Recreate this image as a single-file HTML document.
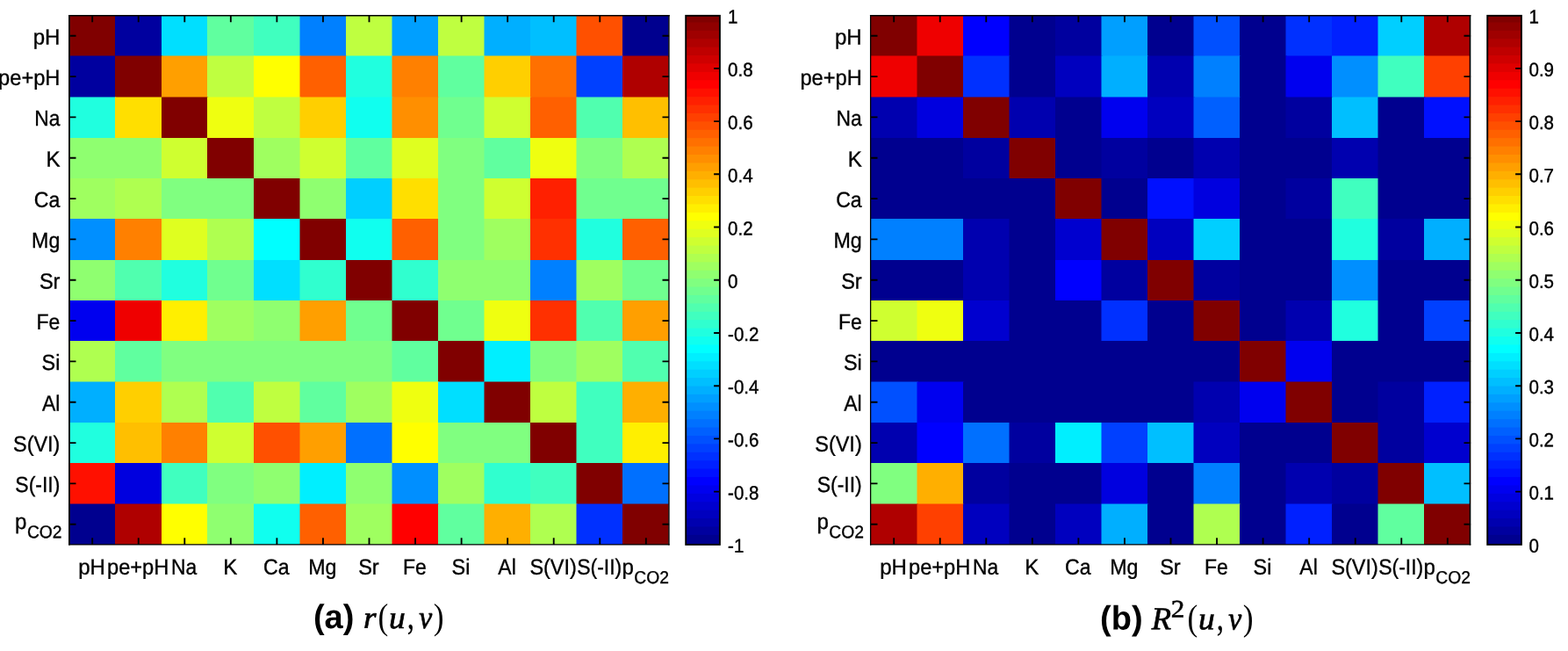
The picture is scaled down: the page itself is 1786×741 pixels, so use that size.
<!DOCTYPE html>
<html lang="en">
<head>
<meta charset="utf-8">
<title>Correlation heat maps: r(u,v) and R2(u,v)</title>
<style>
html,body{margin:0;padding:0;background:#fff;}
body{width:1786px;height:741px;overflow:hidden;}
svg{display:block;}
text{white-space:pre;text-rendering:geometricPrecision;}
</style>
</head>
<body>
<svg width="1786" height="741" viewBox="0 0 1786 741">
<rect x="0" y="0" width="1786" height="741" fill="#fff"/>
<rect x="78.5" y="17.4" width="53.7" height="47.3" fill="#800000"/>
<rect x="131" y="17.4" width="54.2" height="47.3" fill="#00009f"/>
<rect x="184" y="17.4" width="53.2" height="47.3" fill="#00dfff"/>
<rect x="236" y="17.4" width="54.2" height="47.3" fill="#60ff9f"/>
<rect x="289" y="17.4" width="53.7" height="47.3" fill="#40ffbf"/>
<rect x="341.5" y="17.4" width="53.7" height="47.3" fill="#0080ff"/>
<rect x="394" y="17.4" width="53.7" height="47.3" fill="#bfff40"/>
<rect x="446.5" y="17.4" width="53.7" height="47.3" fill="#009fff"/>
<rect x="499" y="17.4" width="53.7" height="47.3" fill="#bfff40"/>
<rect x="551.5" y="17.4" width="53.7" height="47.3" fill="#00afff"/>
<rect x="604" y="17.4" width="53.7" height="47.3" fill="#00bfff"/>
<rect x="656.5" y="17.4" width="53.7" height="47.3" fill="#ff5000"/>
<rect x="709" y="17.4" width="52.6" height="47.3" fill="#00008f"/>
<rect x="78.5" y="63.5" width="53.7" height="48.2" fill="#00009f"/>
<rect x="131" y="63.5" width="54.2" height="48.2" fill="#800000"/>
<rect x="184" y="63.5" width="53.2" height="48.2" fill="#ff9f00"/>
<rect x="236" y="63.5" width="54.2" height="48.2" fill="#bfff40"/>
<rect x="289" y="63.5" width="53.7" height="48.2" fill="#ffff00"/>
<rect x="341.5" y="63.5" width="53.7" height="48.2" fill="#ff6000"/>
<rect x="394" y="63.5" width="53.7" height="48.2" fill="#20ffdf"/>
<rect x="446.5" y="63.5" width="53.7" height="48.2" fill="#ff8000"/>
<rect x="499" y="63.5" width="53.7" height="48.2" fill="#60ff9f"/>
<rect x="551.5" y="63.5" width="53.7" height="48.2" fill="#ffcf00"/>
<rect x="604" y="63.5" width="53.7" height="48.2" fill="#ff7000"/>
<rect x="656.5" y="63.5" width="53.7" height="48.2" fill="#0040ff"/>
<rect x="709" y="63.5" width="52.6" height="48.2" fill="#af0000"/>
<rect x="78.5" y="110.5" width="53.7" height="47.7" fill="#20ffdf"/>
<rect x="131" y="110.5" width="54.2" height="47.7" fill="#ffdf00"/>
<rect x="184" y="110.5" width="53.2" height="47.7" fill="#800000"/>
<rect x="236" y="110.5" width="54.2" height="47.7" fill="#efff10"/>
<rect x="289" y="110.5" width="53.7" height="47.7" fill="#bfff40"/>
<rect x="341.5" y="110.5" width="53.7" height="47.7" fill="#ffcf00"/>
<rect x="394" y="110.5" width="53.7" height="47.7" fill="#10ffef"/>
<rect x="446.5" y="110.5" width="53.7" height="47.7" fill="#ff8f00"/>
<rect x="499" y="110.5" width="53.7" height="47.7" fill="#70ff8f"/>
<rect x="551.5" y="110.5" width="53.7" height="47.7" fill="#cfff30"/>
<rect x="604" y="110.5" width="53.7" height="47.7" fill="#ff6000"/>
<rect x="656.5" y="110.5" width="53.7" height="47.7" fill="#50ffaf"/>
<rect x="709" y="110.5" width="52.6" height="47.7" fill="#ffbf00"/>
<rect x="78.5" y="157" width="106.7" height="47.2" fill="#8fff70"/>
<rect x="184" y="157" width="53.2" height="47.2" fill="#cfff30"/>
<rect x="236" y="157" width="54.2" height="47.2" fill="#800000"/>
<rect x="289" y="157" width="53.7" height="47.2" fill="#9fff60"/>
<rect x="341.5" y="157" width="53.7" height="47.2" fill="#cfff30"/>
<rect x="394" y="157" width="53.7" height="47.2" fill="#60ff9f"/>
<rect x="446.5" y="157" width="53.7" height="47.2" fill="#dfff20"/>
<rect x="499" y="157" width="53.7" height="47.2" fill="#80ff80"/>
<rect x="551.5" y="157" width="53.7" height="47.2" fill="#60ff9f"/>
<rect x="604" y="157" width="53.7" height="47.2" fill="#efff10"/>
<rect x="656.5" y="157" width="53.7" height="47.2" fill="#80ff80"/>
<rect x="709" y="157" width="52.6" height="47.2" fill="#afff50"/>
<rect x="78.5" y="203" width="53.7" height="47.2" fill="#9fff60"/>
<rect x="131" y="203" width="54.2" height="47.2" fill="#afff50"/>
<rect x="184" y="203" width="106.2" height="47.2" fill="#80ff80"/>
<rect x="289" y="203" width="53.7" height="47.2" fill="#800000"/>
<rect x="341.5" y="203" width="53.7" height="47.2" fill="#8fff70"/>
<rect x="394" y="203" width="53.7" height="47.2" fill="#00cfff"/>
<rect x="446.5" y="203" width="53.7" height="47.2" fill="#ffdf00"/>
<rect x="499" y="203" width="53.7" height="47.2" fill="#80ff80"/>
<rect x="551.5" y="203" width="53.7" height="47.2" fill="#cfff30"/>
<rect x="604" y="203" width="53.7" height="47.2" fill="#ff2000"/>
<rect x="656.5" y="203" width="105.1" height="47.2" fill="#70ff8f"/>
<rect x="78.5" y="249" width="53.7" height="48.2" fill="#008fff"/>
<rect x="131" y="249" width="54.2" height="48.2" fill="#ff8000"/>
<rect x="184" y="249" width="53.2" height="48.2" fill="#dfff20"/>
<rect x="236" y="249" width="54.2" height="48.2" fill="#afff50"/>
<rect x="289" y="249" width="53.7" height="48.2" fill="#00ffff"/>
<rect x="341.5" y="249" width="53.7" height="48.2" fill="#800000"/>
<rect x="394" y="249" width="53.7" height="48.2" fill="#10ffef"/>
<rect x="446.5" y="249" width="53.7" height="48.2" fill="#ff6000"/>
<rect x="499" y="249" width="53.7" height="48.2" fill="#80ff80"/>
<rect x="551.5" y="249" width="53.7" height="48.2" fill="#9fff60"/>
<rect x="604" y="249" width="53.7" height="48.2" fill="#ff3000"/>
<rect x="656.5" y="249" width="53.7" height="48.2" fill="#20ffdf"/>
<rect x="709" y="249" width="52.6" height="48.2" fill="#ff6000"/>
<rect x="78.5" y="296" width="53.7" height="47.2" fill="#8fff70"/>
<rect x="131" y="296" width="54.2" height="47.2" fill="#50ffaf"/>
<rect x="184" y="296" width="53.2" height="47.2" fill="#20ffdf"/>
<rect x="236" y="296" width="54.2" height="47.2" fill="#70ff8f"/>
<rect x="289" y="296" width="53.7" height="47.2" fill="#00dfff"/>
<rect x="341.5" y="296" width="53.7" height="47.2" fill="#30ffcf"/>
<rect x="394" y="296" width="53.7" height="47.2" fill="#800000"/>
<rect x="446.5" y="296" width="53.7" height="47.2" fill="#30ffcf"/>
<rect x="499" y="296" width="106.2" height="47.2" fill="#8fff70"/>
<rect x="604" y="296" width="53.7" height="47.2" fill="#0080ff"/>
<rect x="656.5" y="296" width="53.7" height="47.2" fill="#9fff60"/>
<rect x="709" y="296" width="52.6" height="47.2" fill="#70ff8f"/>
<rect x="78.5" y="342" width="53.7" height="47.2" fill="#0000ef"/>
<rect x="131" y="342" width="54.2" height="47.2" fill="#ef0000"/>
<rect x="184" y="342" width="53.2" height="47.2" fill="#ffef00"/>
<rect x="236" y="342" width="54.2" height="47.2" fill="#9fff60"/>
<rect x="289" y="342" width="53.7" height="47.2" fill="#8fff70"/>
<rect x="341.5" y="342" width="53.7" height="47.2" fill="#ff9f00"/>
<rect x="394" y="342" width="53.7" height="47.2" fill="#70ff8f"/>
<rect x="446.5" y="342" width="53.7" height="47.2" fill="#800000"/>
<rect x="499" y="342" width="53.7" height="47.2" fill="#70ff8f"/>
<rect x="551.5" y="342" width="53.7" height="47.2" fill="#efff10"/>
<rect x="604" y="342" width="53.7" height="47.2" fill="#ff3000"/>
<rect x="656.5" y="342" width="53.7" height="47.2" fill="#50ffaf"/>
<rect x="709" y="342" width="52.6" height="47.2" fill="#ff9f00"/>
<rect x="78.5" y="388" width="53.7" height="47.7" fill="#afff50"/>
<rect x="131" y="388" width="54.2" height="47.7" fill="#60ff9f"/>
<rect x="184" y="388" width="263.7" height="47.7" fill="#80ff80"/>
<rect x="446.5" y="388" width="53.7" height="47.7" fill="#60ff9f"/>
<rect x="499" y="388" width="53.7" height="47.7" fill="#800000"/>
<rect x="551.5" y="388" width="53.7" height="47.7" fill="#00efff"/>
<rect x="604" y="388" width="53.7" height="47.7" fill="#80ff80"/>
<rect x="656.5" y="388" width="53.7" height="47.7" fill="#9fff60"/>
<rect x="709" y="388" width="52.6" height="47.7" fill="#50ffaf"/>
<rect x="78.5" y="434.5" width="53.7" height="47.7" fill="#00afff"/>
<rect x="131" y="434.5" width="54.2" height="47.7" fill="#ffcf00"/>
<rect x="184" y="434.5" width="53.2" height="47.7" fill="#afff50"/>
<rect x="236" y="434.5" width="54.2" height="47.7" fill="#50ffaf"/>
<rect x="289" y="434.5" width="53.7" height="47.7" fill="#bfff40"/>
<rect x="341.5" y="434.5" width="53.7" height="47.7" fill="#60ff9f"/>
<rect x="394" y="434.5" width="53.7" height="47.7" fill="#9fff60"/>
<rect x="446.5" y="434.5" width="53.7" height="47.7" fill="#efff10"/>
<rect x="499" y="434.5" width="53.7" height="47.7" fill="#00dfff"/>
<rect x="551.5" y="434.5" width="53.7" height="47.7" fill="#800000"/>
<rect x="604" y="434.5" width="53.7" height="47.7" fill="#bfff40"/>
<rect x="656.5" y="434.5" width="53.7" height="47.7" fill="#40ffbf"/>
<rect x="709" y="434.5" width="52.6" height="47.7" fill="#ffaf00"/>
<rect x="78.5" y="481" width="53.7" height="47.2" fill="#20ffdf"/>
<rect x="131" y="481" width="54.2" height="47.2" fill="#ffbf00"/>
<rect x="184" y="481" width="53.2" height="47.2" fill="#ff8000"/>
<rect x="236" y="481" width="54.2" height="47.2" fill="#cfff30"/>
<rect x="289" y="481" width="53.7" height="47.2" fill="#ff5000"/>
<rect x="341.5" y="481" width="53.7" height="47.2" fill="#ff9f00"/>
<rect x="394" y="481" width="53.7" height="47.2" fill="#0070ff"/>
<rect x="446.5" y="481" width="53.7" height="47.2" fill="#ffff00"/>
<rect x="499" y="481" width="106.2" height="47.2" fill="#80ff80"/>
<rect x="604" y="481" width="53.7" height="47.2" fill="#800000"/>
<rect x="656.5" y="481" width="53.7" height="47.2" fill="#40ffbf"/>
<rect x="709" y="481" width="52.6" height="47.2" fill="#ffef00"/>
<rect x="78.5" y="527" width="53.7" height="47.7" fill="#ff1000"/>
<rect x="131" y="527" width="54.2" height="47.7" fill="#0000df"/>
<rect x="184" y="527" width="53.2" height="47.7" fill="#40ffbf"/>
<rect x="236" y="527" width="54.2" height="47.7" fill="#80ff80"/>
<rect x="289" y="527" width="53.7" height="47.7" fill="#8fff70"/>
<rect x="341.5" y="527" width="53.7" height="47.7" fill="#00efff"/>
<rect x="394" y="527" width="53.7" height="47.7" fill="#8fff70"/>
<rect x="446.5" y="527" width="53.7" height="47.7" fill="#008fff"/>
<rect x="499" y="527" width="53.7" height="47.7" fill="#9fff60"/>
<rect x="551.5" y="527" width="53.7" height="47.7" fill="#30ffcf"/>
<rect x="604" y="527" width="53.7" height="47.7" fill="#40ffbf"/>
<rect x="656.5" y="527" width="53.7" height="47.7" fill="#800000"/>
<rect x="709" y="527" width="52.6" height="47.7" fill="#0070ff"/>
<rect x="78.5" y="573.5" width="53.7" height="46.5" fill="#00008f"/>
<rect x="131" y="573.5" width="54.2" height="46.5" fill="#af0000"/>
<rect x="184" y="573.5" width="53.2" height="46.5" fill="#ffff00"/>
<rect x="236" y="573.5" width="54.2" height="46.5" fill="#8fff70"/>
<rect x="289" y="573.5" width="53.7" height="46.5" fill="#10ffef"/>
<rect x="341.5" y="573.5" width="53.7" height="46.5" fill="#ff6000"/>
<rect x="394" y="573.5" width="53.7" height="46.5" fill="#9fff60"/>
<rect x="446.5" y="573.5" width="53.7" height="46.5" fill="#ff0000"/>
<rect x="499" y="573.5" width="53.7" height="46.5" fill="#60ff9f"/>
<rect x="551.5" y="573.5" width="53.7" height="46.5" fill="#ffaf00"/>
<rect x="604" y="573.5" width="53.7" height="46.5" fill="#afff50"/>
<rect x="656.5" y="573.5" width="53.7" height="46.5" fill="#0030ff"/>
<rect x="709" y="573.5" width="52.6" height="46.5" fill="#800000"/>
<path d="M105.18 17.6v7.6M105.18 619.9v-7.6M78.9 40.77h7.6M762.1 40.77h-7.6M157.73 17.6v7.6M157.73 619.9v-7.6M78.9 87.1h7.6M762.1 87.1h-7.6M210.28 17.6v7.6M210.28 619.9v-7.6M78.9 133.43h7.6M762.1 133.43h-7.6M262.84 17.6v7.6M262.84 619.9v-7.6M78.9 179.76h7.6M762.1 179.76h-7.6M315.39 17.6v7.6M315.39 619.9v-7.6M78.9 226.09h7.6M762.1 226.09h-7.6M367.95 17.6v7.6M367.95 619.9v-7.6M78.9 272.42h7.6M762.1 272.42h-7.6M420.5 17.6v7.6M420.5 619.9v-7.6M78.9 318.75h7.6M762.1 318.75h-7.6M473.05 17.6v7.6M473.05 619.9v-7.6M78.9 365.08h7.6M762.1 365.08h-7.6M525.61 17.6v7.6M525.61 619.9v-7.6M78.9 411.41h7.6M762.1 411.41h-7.6M578.16 17.6v7.6M578.16 619.9v-7.6M78.9 457.74h7.6M762.1 457.74h-7.6M630.72 17.6v7.6M630.72 619.9v-7.6M78.9 504.07h7.6M762.1 504.07h-7.6M683.27 17.6v7.6M683.27 619.9v-7.6M78.9 550.4h7.6M762.1 550.4h-7.6M735.82 17.6v7.6M735.82 619.9v-7.6M78.9 596.73h7.6M762.1 596.73h-7.6" stroke="#000" stroke-width="1.85" fill="none"/>
<path d="M78.95 16.9V620.6" stroke="#000" stroke-width="1.75" fill="none"/>
<path d="M78.08 17.7H762.63" stroke="#000" stroke-width="1.4" fill="none"/>
<path d="M761.93 16.9V620.6" stroke="#000" stroke-width="1.4" fill="none"/>
<path d="M78.08 619.9H762.63" stroke="#000" stroke-width="1.4" fill="none"/>
<g font-family="'Liberation Sans', Arial, Helvetica, sans-serif" font-size="24" fill="#000" stroke="#000" stroke-width="0.35">
<text transform="translate(68.4 50.47) scale(1 1.035) rotate(0.03)" text-anchor="end">pH</text>
<text transform="translate(68.4 96.8) scale(0.985 1.035) rotate(0.03)" text-anchor="end">pe+pH</text>
<text transform="translate(68.4 143.13) scale(0.95 1.035) rotate(0.03)" text-anchor="end">Na</text>
<text transform="translate(68.4 189.46) scale(1 1.035) rotate(0.03)" text-anchor="end">K</text>
<text transform="translate(68.4 235.79) scale(0.963 1.035) rotate(0.03)" text-anchor="end">Ca</text>
<text transform="translate(68.4 282.12) scale(0.968 1.035) rotate(0.03)" text-anchor="end">Mg</text>
<text transform="translate(68.4 328.45) scale(0.98 1.035) rotate(0.03)" text-anchor="end">Sr</text>
<text transform="translate(68.4 374.78) scale(0.957 1.035) rotate(0.03)" text-anchor="end">Fe</text>
<text transform="translate(68.4 421.11) scale(0.975 1.035) rotate(0.03)" text-anchor="end">Si</text>
<text transform="translate(68.4 467.44) scale(0.957 1.035) rotate(0.03)" text-anchor="end">Al</text>
<text transform="translate(68.4 513.77) scale(0.977 1.035) rotate(0.03)" text-anchor="end">S(VI)</text>
<text transform="translate(68.4 560.1) scale(0.957 1.035) rotate(0.03)" text-anchor="end">S(-II)</text>
<text transform="translate(70.6 601.93) scale(1 1.035) rotate(0.03)" text-anchor="end">p<tspan dx="0.5" dy="10" font-size="19.3">CO2</tspan></text>
<text transform="translate(104.58 653.7) scale(1 1.035) rotate(0.03)" text-anchor="middle">pH</text>
<text transform="translate(157.13 653.7) scale(0.985 1.035) rotate(0.03)" text-anchor="middle">pe+pH</text>
<text transform="translate(209.68 653.7) scale(0.95 1.035) rotate(0.03)" text-anchor="middle">Na</text>
<text transform="translate(262.24 653.7) scale(1 1.035) rotate(0.03)" text-anchor="middle">K</text>
<text transform="translate(314.79 653.7) scale(0.963 1.035) rotate(0.03)" text-anchor="middle">Ca</text>
<text transform="translate(367.35 653.7) scale(0.968 1.035) rotate(0.03)" text-anchor="middle">Mg</text>
<text transform="translate(419.9 653.7) scale(0.98 1.035) rotate(0.03)" text-anchor="middle">Sr</text>
<text transform="translate(472.45 653.7) scale(0.957 1.035) rotate(0.03)" text-anchor="middle">Fe</text>
<text transform="translate(525.01 653.7) scale(0.975 1.035) rotate(0.03)" text-anchor="middle">Si</text>
<text transform="translate(577.56 653.7) scale(0.957 1.035) rotate(0.03)" text-anchor="middle">Al</text>
<text transform="translate(630.12 653.7) scale(0.977 1.035) rotate(0.03)" text-anchor="middle">S(VI)</text>
<text transform="translate(682.67 653.7) scale(0.957 1.035) rotate(0.03)" text-anchor="middle">S(-II)</text>
<text transform="translate(735.22 653.7) scale(1 1.035) rotate(0.03)" text-anchor="middle">p<tspan dx="0.5" dy="10" font-size="19.3">CO2</tspan></text>
</g>
<rect x="781.2" y="17.85" width="38.7" height="8.76" fill="#800000"/>
<rect x="781.2" y="25.41" width="38.7" height="10.61" fill="#8f0000"/>
<rect x="781.2" y="34.82" width="38.7" height="10.61" fill="#9f0000"/>
<rect x="781.2" y="44.23" width="38.7" height="10.61" fill="#af0000"/>
<rect x="781.2" y="53.64" width="38.7" height="10.61" fill="#bf0000"/>
<rect x="781.2" y="63.05" width="38.7" height="10.61" fill="#cf0000"/>
<rect x="781.2" y="72.47" width="38.7" height="10.61" fill="#df0000"/>
<rect x="781.2" y="81.88" width="38.7" height="10.61" fill="#ef0000"/>
<rect x="781.2" y="91.29" width="38.7" height="10.61" fill="#ff0000"/>
<rect x="781.2" y="100.7" width="38.7" height="10.61" fill="#ff1000"/>
<rect x="781.2" y="110.11" width="38.7" height="10.61" fill="#ff2000"/>
<rect x="781.2" y="119.52" width="38.7" height="10.61" fill="#ff3000"/>
<rect x="781.2" y="128.93" width="38.7" height="10.61" fill="#ff4000"/>
<rect x="781.2" y="138.34" width="38.7" height="10.61" fill="#ff5000"/>
<rect x="781.2" y="147.75" width="38.7" height="10.61" fill="#ff6000"/>
<rect x="781.2" y="157.16" width="38.7" height="10.61" fill="#ff7000"/>
<rect x="781.2" y="166.57" width="38.7" height="10.61" fill="#ff8000"/>
<rect x="781.2" y="175.99" width="38.7" height="10.61" fill="#ff8f00"/>
<rect x="781.2" y="185.4" width="38.7" height="10.61" fill="#ff9f00"/>
<rect x="781.2" y="194.81" width="38.7" height="10.61" fill="#ffaf00"/>
<rect x="781.2" y="204.22" width="38.7" height="10.61" fill="#ffbf00"/>
<rect x="781.2" y="213.63" width="38.7" height="10.61" fill="#ffcf00"/>
<rect x="781.2" y="223.04" width="38.7" height="10.61" fill="#ffdf00"/>
<rect x="781.2" y="232.45" width="38.7" height="10.61" fill="#ffef00"/>
<rect x="781.2" y="241.86" width="38.7" height="10.61" fill="#ffff00"/>
<rect x="781.2" y="251.27" width="38.7" height="10.61" fill="#efff10"/>
<rect x="781.2" y="260.68" width="38.7" height="10.61" fill="#dfff20"/>
<rect x="781.2" y="270.1" width="38.7" height="10.61" fill="#cfff30"/>
<rect x="781.2" y="279.51" width="38.7" height="10.61" fill="#bfff40"/>
<rect x="781.2" y="288.92" width="38.7" height="10.61" fill="#afff50"/>
<rect x="781.2" y="298.33" width="38.7" height="10.61" fill="#9fff60"/>
<rect x="781.2" y="307.74" width="38.7" height="10.61" fill="#8fff70"/>
<rect x="781.2" y="317.15" width="38.7" height="10.61" fill="#80ff80"/>
<rect x="781.2" y="326.56" width="38.7" height="10.61" fill="#70ff8f"/>
<rect x="781.2" y="335.97" width="38.7" height="10.61" fill="#60ff9f"/>
<rect x="781.2" y="345.38" width="38.7" height="10.61" fill="#50ffaf"/>
<rect x="781.2" y="354.79" width="38.7" height="10.61" fill="#40ffbf"/>
<rect x="781.2" y="364.2" width="38.7" height="10.61" fill="#30ffcf"/>
<rect x="781.2" y="373.62" width="38.7" height="10.61" fill="#20ffdf"/>
<rect x="781.2" y="383.03" width="38.7" height="10.61" fill="#10ffef"/>
<rect x="781.2" y="392.44" width="38.7" height="10.61" fill="#00ffff"/>
<rect x="781.2" y="401.85" width="38.7" height="10.61" fill="#00efff"/>
<rect x="781.2" y="411.26" width="38.7" height="10.61" fill="#00dfff"/>
<rect x="781.2" y="420.67" width="38.7" height="10.61" fill="#00cfff"/>
<rect x="781.2" y="430.08" width="38.7" height="10.61" fill="#00bfff"/>
<rect x="781.2" y="439.49" width="38.7" height="10.61" fill="#00afff"/>
<rect x="781.2" y="448.9" width="38.7" height="10.61" fill="#009fff"/>
<rect x="781.2" y="458.31" width="38.7" height="10.61" fill="#008fff"/>
<rect x="781.2" y="467.72" width="38.7" height="10.61" fill="#0080ff"/>
<rect x="781.2" y="477.14" width="38.7" height="10.61" fill="#0070ff"/>
<rect x="781.2" y="486.55" width="38.7" height="10.61" fill="#0060ff"/>
<rect x="781.2" y="495.96" width="38.7" height="10.61" fill="#0050ff"/>
<rect x="781.2" y="505.37" width="38.7" height="10.61" fill="#0040ff"/>
<rect x="781.2" y="514.78" width="38.7" height="10.61" fill="#0030ff"/>
<rect x="781.2" y="524.19" width="38.7" height="10.61" fill="#0020ff"/>
<rect x="781.2" y="533.6" width="38.7" height="10.61" fill="#0010ff"/>
<rect x="781.2" y="543.01" width="38.7" height="10.61" fill="#0000ff"/>
<rect x="781.2" y="552.42" width="38.7" height="10.61" fill="#0000ef"/>
<rect x="781.2" y="561.83" width="38.7" height="10.61" fill="#0000df"/>
<rect x="781.2" y="571.25" width="38.7" height="10.61" fill="#0000cf"/>
<rect x="781.2" y="580.66" width="38.7" height="10.61" fill="#0000bf"/>
<rect x="781.2" y="590.07" width="38.7" height="10.61" fill="#0000af"/>
<rect x="781.2" y="599.48" width="38.7" height="10.61" fill="#00009f"/>
<rect x="781.2" y="608.89" width="38.7" height="11.01" fill="#00008f"/>
<path d="M819.9 77.83h-6.8M819.9 138.06h-6.8M819.9 198.29h-6.8M819.9 258.52h-6.8M819.9 318.75h-6.8M819.9 378.98h-6.8M819.9 439.21h-6.8M819.9 499.44h-6.8M819.9 559.67h-6.8" stroke="#000" stroke-width="1.85" fill="none"/>
<rect x="781.2" y="17.85" width="38.7" height="602.05" fill="none" stroke="#000" stroke-width="1.9"/>
<g font-family="'Liberation Sans', Arial, Helvetica, sans-serif" font-size="20.5" fill="#000" stroke="#000" stroke-width="0.4">
<text transform="translate(829.1 26.5) scale(1 1.07) rotate(0.03)">1</text>
<text transform="translate(829.1 86.73) scale(1 1.07) rotate(0.03)">0.8</text>
<text transform="translate(829.1 146.96) scale(1 1.07) rotate(0.03)">0.6</text>
<text transform="translate(829.1 207.19) scale(1 1.07) rotate(0.03)">0.4</text>
<text transform="translate(829.1 267.42) scale(1 1.07) rotate(0.03)">0.2</text>
<text transform="translate(829.1 327.65) scale(1 1.07) rotate(0.03)">0</text>
<text transform="translate(829.1 387.88) scale(1 1.07) rotate(0.03)">-0.2</text>
<text transform="translate(829.1 448.11) scale(1 1.07) rotate(0.03)">-0.4</text>
<text transform="translate(829.1 508.34) scale(1 1.07) rotate(0.03)">-0.6</text>
<text transform="translate(829.1 568.57) scale(1 1.07) rotate(0.03)">-0.8</text>
<text transform="translate(829.1 628.8) scale(1 1.07) rotate(0.03)">-1</text>
</g>
<text transform="translate(356.91 714.9) scale(0.995 1) rotate(0.03)" font-family="'Liberation Sans', Arial, Helvetica, sans-serif" font-weight="bold" font-size="38.2">(a)</text>
<text transform="translate(413.94 714.8) scale(1.058 1) rotate(0.03)" font-family="'Liberation Serif', 'Times New Roman', Times, serif" font-size="35.23" font-style="italic" stroke="#000" stroke-width="0.7">r</text>
<text transform="translate(430.54 715.64) scale(0.851 1) rotate(0.03)" font-family="'Liberation Serif', 'Times New Roman', Times, serif" font-size="41.63">(</text>
<text transform="translate(443.09 714.97) scale(1.024 1) rotate(0.03)" font-family="'Liberation Serif', 'Times New Roman', Times, serif" font-size="36.54" font-style="italic" stroke="#000" stroke-width="0.7">u</text>
<text transform="translate(463.65 715.58) scale(0.748 1) rotate(0.03)" font-family="'Liberation Serif', 'Times New Roman', Times, serif" font-size="44" stroke="#000" stroke-width="0.2">,</text>
<text transform="translate(477.19 715.04) scale(0.919 1) rotate(0.03)" font-family="'Liberation Serif', 'Times New Roman', Times, serif" font-size="36.69" font-style="italic" stroke="#000" stroke-width="0.7">v</text>
<text transform="translate(493.66 715.64) scale(0.851 1) rotate(0.03)" font-family="'Liberation Serif', 'Times New Roman', Times, serif" font-size="41.63">)</text>
<rect x="992" y="17.4" width="53.7" height="47.3" fill="#800000"/>
<rect x="1044.5" y="17.4" width="53.7" height="47.3" fill="#ef0000"/>
<rect x="1097" y="17.4" width="53.7" height="47.3" fill="#0000ff"/>
<rect x="1149.5" y="17.4" width="53.7" height="47.3" fill="#00008f"/>
<rect x="1202" y="17.4" width="53.7" height="47.3" fill="#00009f"/>
<rect x="1254.5" y="17.4" width="53.7" height="47.3" fill="#009fff"/>
<rect x="1307" y="17.4" width="53.7" height="47.3" fill="#00008f"/>
<rect x="1359.5" y="17.4" width="53.7" height="47.3" fill="#0050ff"/>
<rect x="1412" y="17.4" width="53.7" height="47.3" fill="#00008f"/>
<rect x="1464.5" y="17.4" width="53.7" height="47.3" fill="#0030ff"/>
<rect x="1517" y="17.4" width="53.7" height="47.3" fill="#0020ff"/>
<rect x="1569.5" y="17.4" width="53.7" height="47.3" fill="#00cfff"/>
<rect x="1622" y="17.4" width="52.6" height="47.3" fill="#af0000"/>
<rect x="992" y="63.5" width="53.7" height="48.2" fill="#ef0000"/>
<rect x="1044.5" y="63.5" width="53.7" height="48.2" fill="#800000"/>
<rect x="1097" y="63.5" width="53.7" height="48.2" fill="#0030ff"/>
<rect x="1149.5" y="63.5" width="53.7" height="48.2" fill="#00008f"/>
<rect x="1202" y="63.5" width="53.7" height="48.2" fill="#0000bf"/>
<rect x="1254.5" y="63.5" width="53.7" height="48.2" fill="#00afff"/>
<rect x="1307" y="63.5" width="53.7" height="48.2" fill="#0000af"/>
<rect x="1359.5" y="63.5" width="53.7" height="48.2" fill="#0080ff"/>
<rect x="1412" y="63.5" width="53.7" height="48.2" fill="#00008f"/>
<rect x="1464.5" y="63.5" width="53.7" height="48.2" fill="#0000ef"/>
<rect x="1517" y="63.5" width="53.7" height="48.2" fill="#008fff"/>
<rect x="1569.5" y="63.5" width="53.7" height="48.2" fill="#40ffbf"/>
<rect x="1622" y="63.5" width="52.6" height="48.2" fill="#ff4000"/>
<rect x="992" y="110.5" width="53.7" height="47.7" fill="#0000af"/>
<rect x="1044.5" y="110.5" width="53.7" height="47.7" fill="#0000df"/>
<rect x="1097" y="110.5" width="53.7" height="47.7" fill="#800000"/>
<rect x="1149.5" y="110.5" width="53.7" height="47.7" fill="#0000af"/>
<rect x="1202" y="110.5" width="53.7" height="47.7" fill="#00008f"/>
<rect x="1254.5" y="110.5" width="53.7" height="47.7" fill="#0000ef"/>
<rect x="1307" y="110.5" width="53.7" height="47.7" fill="#0000bf"/>
<rect x="1359.5" y="110.5" width="53.7" height="47.7" fill="#0060ff"/>
<rect x="1412" y="110.5" width="53.7" height="47.7" fill="#00008f"/>
<rect x="1464.5" y="110.5" width="53.7" height="47.7" fill="#00009f"/>
<rect x="1517" y="110.5" width="53.7" height="47.7" fill="#00bfff"/>
<rect x="1569.5" y="110.5" width="53.7" height="47.7" fill="#00008f"/>
<rect x="1622" y="110.5" width="52.6" height="47.7" fill="#0010ff"/>
<rect x="992" y="157" width="106.2" height="47.2" fill="#00008f"/>
<rect x="1097" y="157" width="53.7" height="47.2" fill="#00009f"/>
<rect x="1149.5" y="157" width="53.7" height="47.2" fill="#800000"/>
<rect x="1202" y="157" width="53.7" height="47.2" fill="#00008f"/>
<rect x="1254.5" y="157" width="53.7" height="47.2" fill="#00009f"/>
<rect x="1307" y="157" width="53.7" height="47.2" fill="#00008f"/>
<rect x="1359.5" y="157" width="53.7" height="47.2" fill="#0000af"/>
<rect x="1412" y="157" width="106.2" height="47.2" fill="#00008f"/>
<rect x="1517" y="157" width="53.7" height="47.2" fill="#0000af"/>
<rect x="1569.5" y="157" width="105.1" height="47.2" fill="#00008f"/>
<rect x="992" y="203" width="211.2" height="47.2" fill="#00008f"/>
<rect x="1202" y="203" width="53.7" height="47.2" fill="#800000"/>
<rect x="1254.5" y="203" width="53.7" height="47.2" fill="#00008f"/>
<rect x="1307" y="203" width="53.7" height="47.2" fill="#0010ff"/>
<rect x="1359.5" y="203" width="53.7" height="47.2" fill="#0000df"/>
<rect x="1412" y="203" width="53.7" height="47.2" fill="#00008f"/>
<rect x="1464.5" y="203" width="53.7" height="47.2" fill="#00009f"/>
<rect x="1517" y="203" width="53.7" height="47.2" fill="#40ffbf"/>
<rect x="1569.5" y="203" width="105.1" height="47.2" fill="#00008f"/>
<rect x="992" y="249" width="106.2" height="48.2" fill="#0080ff"/>
<rect x="1097" y="249" width="53.7" height="48.2" fill="#0000af"/>
<rect x="1149.5" y="249" width="53.7" height="48.2" fill="#00008f"/>
<rect x="1202" y="249" width="53.7" height="48.2" fill="#0000cf"/>
<rect x="1254.5" y="249" width="53.7" height="48.2" fill="#800000"/>
<rect x="1307" y="249" width="53.7" height="48.2" fill="#0000bf"/>
<rect x="1359.5" y="249" width="53.7" height="48.2" fill="#00cfff"/>
<rect x="1412" y="249" width="106.2" height="48.2" fill="#00008f"/>
<rect x="1517" y="249" width="53.7" height="48.2" fill="#20ffdf"/>
<rect x="1569.5" y="249" width="53.7" height="48.2" fill="#00009f"/>
<rect x="1622" y="249" width="52.6" height="48.2" fill="#00afff"/>
<rect x="992" y="296" width="106.2" height="47.2" fill="#00008f"/>
<rect x="1097" y="296" width="53.7" height="47.2" fill="#0000af"/>
<rect x="1149.5" y="296" width="53.7" height="47.2" fill="#00008f"/>
<rect x="1202" y="296" width="53.7" height="47.2" fill="#0000ff"/>
<rect x="1254.5" y="296" width="53.7" height="47.2" fill="#00009f"/>
<rect x="1307" y="296" width="53.7" height="47.2" fill="#800000"/>
<rect x="1359.5" y="296" width="53.7" height="47.2" fill="#00009f"/>
<rect x="1412" y="296" width="106.2" height="47.2" fill="#00008f"/>
<rect x="1517" y="296" width="53.7" height="47.2" fill="#008fff"/>
<rect x="1569.5" y="296" width="105.1" height="47.2" fill="#00008f"/>
<rect x="992" y="342" width="53.7" height="47.2" fill="#cfff30"/>
<rect x="1044.5" y="342" width="53.7" height="47.2" fill="#efff10"/>
<rect x="1097" y="342" width="53.7" height="47.2" fill="#0000cf"/>
<rect x="1149.5" y="342" width="106.2" height="47.2" fill="#00008f"/>
<rect x="1254.5" y="342" width="53.7" height="47.2" fill="#0030ff"/>
<rect x="1307" y="342" width="53.7" height="47.2" fill="#00008f"/>
<rect x="1359.5" y="342" width="53.7" height="47.2" fill="#800000"/>
<rect x="1412" y="342" width="53.7" height="47.2" fill="#00008f"/>
<rect x="1464.5" y="342" width="53.7" height="47.2" fill="#0000af"/>
<rect x="1517" y="342" width="53.7" height="47.2" fill="#20ffdf"/>
<rect x="1569.5" y="342" width="53.7" height="47.2" fill="#00008f"/>
<rect x="1622" y="342" width="52.6" height="47.2" fill="#0040ff"/>
<rect x="992" y="388" width="421.2" height="47.7" fill="#00008f"/>
<rect x="1412" y="388" width="53.7" height="47.7" fill="#800000"/>
<rect x="1464.5" y="388" width="53.7" height="47.7" fill="#0000ef"/>
<rect x="1517" y="388" width="157.6" height="47.7" fill="#00008f"/>
<rect x="992" y="434.5" width="53.7" height="47.7" fill="#0050ff"/>
<rect x="1044.5" y="434.5" width="53.7" height="47.7" fill="#0000ef"/>
<rect x="1097" y="434.5" width="263.7" height="47.7" fill="#00008f"/>
<rect x="1359.5" y="434.5" width="53.7" height="47.7" fill="#0000af"/>
<rect x="1412" y="434.5" width="53.7" height="47.7" fill="#0000ef"/>
<rect x="1464.5" y="434.5" width="53.7" height="47.7" fill="#800000"/>
<rect x="1517" y="434.5" width="53.7" height="47.7" fill="#00008f"/>
<rect x="1569.5" y="434.5" width="53.7" height="47.7" fill="#00009f"/>
<rect x="1622" y="434.5" width="52.6" height="47.7" fill="#0020ff"/>
<rect x="992" y="481" width="53.7" height="47.2" fill="#0000af"/>
<rect x="1044.5" y="481" width="53.7" height="47.2" fill="#0000ff"/>
<rect x="1097" y="481" width="53.7" height="47.2" fill="#0070ff"/>
<rect x="1149.5" y="481" width="53.7" height="47.2" fill="#00009f"/>
<rect x="1202" y="481" width="53.7" height="47.2" fill="#00efff"/>
<rect x="1254.5" y="481" width="53.7" height="47.2" fill="#0040ff"/>
<rect x="1307" y="481" width="53.7" height="47.2" fill="#00bfff"/>
<rect x="1359.5" y="481" width="53.7" height="47.2" fill="#0000bf"/>
<rect x="1412" y="481" width="106.2" height="47.2" fill="#00008f"/>
<rect x="1517" y="481" width="53.7" height="47.2" fill="#800000"/>
<rect x="1569.5" y="481" width="53.7" height="47.2" fill="#00009f"/>
<rect x="1622" y="481" width="52.6" height="47.2" fill="#0000cf"/>
<rect x="992" y="527" width="53.7" height="47.7" fill="#80ff80"/>
<rect x="1044.5" y="527" width="53.7" height="47.7" fill="#ffaf00"/>
<rect x="1097" y="527" width="53.7" height="47.7" fill="#00009f"/>
<rect x="1149.5" y="527" width="106.2" height="47.7" fill="#00008f"/>
<rect x="1254.5" y="527" width="53.7" height="47.7" fill="#0000df"/>
<rect x="1307" y="527" width="53.7" height="47.7" fill="#00008f"/>
<rect x="1359.5" y="527" width="53.7" height="47.7" fill="#0080ff"/>
<rect x="1412" y="527" width="53.7" height="47.7" fill="#00008f"/>
<rect x="1464.5" y="527" width="53.7" height="47.7" fill="#0000af"/>
<rect x="1517" y="527" width="53.7" height="47.7" fill="#00009f"/>
<rect x="1569.5" y="527" width="53.7" height="47.7" fill="#800000"/>
<rect x="1622" y="527" width="52.6" height="47.7" fill="#00bfff"/>
<rect x="992" y="573.5" width="53.7" height="46.5" fill="#af0000"/>
<rect x="1044.5" y="573.5" width="53.7" height="46.5" fill="#ff4000"/>
<rect x="1097" y="573.5" width="53.7" height="46.5" fill="#0000bf"/>
<rect x="1149.5" y="573.5" width="53.7" height="46.5" fill="#00008f"/>
<rect x="1202" y="573.5" width="53.7" height="46.5" fill="#0000bf"/>
<rect x="1254.5" y="573.5" width="53.7" height="46.5" fill="#00afff"/>
<rect x="1307" y="573.5" width="53.7" height="46.5" fill="#00008f"/>
<rect x="1359.5" y="573.5" width="53.7" height="46.5" fill="#afff50"/>
<rect x="1412" y="573.5" width="53.7" height="46.5" fill="#00008f"/>
<rect x="1464.5" y="573.5" width="53.7" height="46.5" fill="#0020ff"/>
<rect x="1517" y="573.5" width="53.7" height="46.5" fill="#00008f"/>
<rect x="1569.5" y="573.5" width="53.7" height="46.5" fill="#60ff9f"/>
<rect x="1622" y="573.5" width="52.6" height="46.5" fill="#800000"/>
<path d="M1018.18 17.6v7.6M1018.18 619.9v-7.6M991.9 40.77h7.6M1675.1 40.77h-7.6M1070.73 17.6v7.6M1070.73 619.9v-7.6M991.9 87.1h7.6M1675.1 87.1h-7.6M1123.28 17.6v7.6M1123.28 619.9v-7.6M991.9 133.43h7.6M1675.1 133.43h-7.6M1175.84 17.6v7.6M1175.84 619.9v-7.6M991.9 179.76h7.6M1675.1 179.76h-7.6M1228.39 17.6v7.6M1228.39 619.9v-7.6M991.9 226.09h7.6M1675.1 226.09h-7.6M1280.95 17.6v7.6M1280.95 619.9v-7.6M991.9 272.42h7.6M1675.1 272.42h-7.6M1333.5 17.6v7.6M1333.5 619.9v-7.6M991.9 318.75h7.6M1675.1 318.75h-7.6M1386.05 17.6v7.6M1386.05 619.9v-7.6M991.9 365.08h7.6M1675.1 365.08h-7.6M1438.61 17.6v7.6M1438.61 619.9v-7.6M991.9 411.41h7.6M1675.1 411.41h-7.6M1491.16 17.6v7.6M1491.16 619.9v-7.6M991.9 457.74h7.6M1675.1 457.74h-7.6M1543.72 17.6v7.6M1543.72 619.9v-7.6M991.9 504.07h7.6M1675.1 504.07h-7.6M1596.27 17.6v7.6M1596.27 619.9v-7.6M991.9 550.4h7.6M1675.1 550.4h-7.6M1648.82 17.6v7.6M1648.82 619.9v-7.6M991.9 596.73h7.6M1675.1 596.73h-7.6" stroke="#000" stroke-width="1.85" fill="none"/>
<path d="M991.6 16.9V620.6" stroke="#000" stroke-width="1.3" fill="none"/>
<path d="M990.95 17.7H1675.3" stroke="#000" stroke-width="1.4" fill="none"/>
<path d="M1674.5 16.9V620.6" stroke="#000" stroke-width="1.6" fill="none"/>
<path d="M990.95 619.9H1675.3" stroke="#000" stroke-width="1.4" fill="none"/>
<g font-family="'Liberation Sans', Arial, Helvetica, sans-serif" font-size="24" fill="#000" stroke="#000" stroke-width="0.35">
<text transform="translate(981.7 50.47) scale(1 1.035) rotate(0.03)" text-anchor="end">pH</text>
<text transform="translate(981.7 96.8) scale(0.985 1.035) rotate(0.03)" text-anchor="end">pe+pH</text>
<text transform="translate(981.7 143.13) scale(0.95 1.035) rotate(0.03)" text-anchor="end">Na</text>
<text transform="translate(981.7 189.46) scale(1 1.035) rotate(0.03)" text-anchor="end">K</text>
<text transform="translate(981.7 235.79) scale(0.963 1.035) rotate(0.03)" text-anchor="end">Ca</text>
<text transform="translate(981.7 282.12) scale(0.968 1.035) rotate(0.03)" text-anchor="end">Mg</text>
<text transform="translate(981.7 328.45) scale(0.98 1.035) rotate(0.03)" text-anchor="end">Sr</text>
<text transform="translate(981.7 374.78) scale(0.957 1.035) rotate(0.03)" text-anchor="end">Fe</text>
<text transform="translate(981.7 421.11) scale(0.975 1.035) rotate(0.03)" text-anchor="end">Si</text>
<text transform="translate(981.7 467.44) scale(0.957 1.035) rotate(0.03)" text-anchor="end">Al</text>
<text transform="translate(981.7 513.77) scale(0.977 1.035) rotate(0.03)" text-anchor="end">S(VI)</text>
<text transform="translate(981.7 560.1) scale(0.957 1.035) rotate(0.03)" text-anchor="end">S(-II)</text>
<text transform="translate(983.9 601.93) scale(1 1.035) rotate(0.03)" text-anchor="end">p<tspan dx="0.5" dy="10" font-size="19.3">CO2</tspan></text>
<text transform="translate(1017.58 653.7) scale(1 1.035) rotate(0.03)" text-anchor="middle">pH</text>
<text transform="translate(1070.13 653.7) scale(0.985 1.035) rotate(0.03)" text-anchor="middle">pe+pH</text>
<text transform="translate(1122.68 653.7) scale(0.95 1.035) rotate(0.03)" text-anchor="middle">Na</text>
<text transform="translate(1175.24 653.7) scale(1 1.035) rotate(0.03)" text-anchor="middle">K</text>
<text transform="translate(1227.79 653.7) scale(0.963 1.035) rotate(0.03)" text-anchor="middle">Ca</text>
<text transform="translate(1280.35 653.7) scale(0.968 1.035) rotate(0.03)" text-anchor="middle">Mg</text>
<text transform="translate(1332.9 653.7) scale(0.98 1.035) rotate(0.03)" text-anchor="middle">Sr</text>
<text transform="translate(1385.45 653.7) scale(0.957 1.035) rotate(0.03)" text-anchor="middle">Fe</text>
<text transform="translate(1438.01 653.7) scale(0.975 1.035) rotate(0.03)" text-anchor="middle">Si</text>
<text transform="translate(1490.56 653.7) scale(0.957 1.035) rotate(0.03)" text-anchor="middle">Al</text>
<text transform="translate(1543.12 653.7) scale(0.977 1.035) rotate(0.03)" text-anchor="middle">S(VI)</text>
<text transform="translate(1595.67 653.7) scale(0.957 1.035) rotate(0.03)" text-anchor="middle">S(-II)</text>
<text transform="translate(1648.22 653.7) scale(1 1.035) rotate(0.03)" text-anchor="middle">p<tspan dx="0.5" dy="10" font-size="19.3">CO2</tspan></text>
</g>
<rect x="1694.2" y="17.85" width="38.7" height="8.76" fill="#800000"/>
<rect x="1694.2" y="25.41" width="38.7" height="10.61" fill="#8f0000"/>
<rect x="1694.2" y="34.82" width="38.7" height="10.61" fill="#9f0000"/>
<rect x="1694.2" y="44.23" width="38.7" height="10.61" fill="#af0000"/>
<rect x="1694.2" y="53.64" width="38.7" height="10.61" fill="#bf0000"/>
<rect x="1694.2" y="63.05" width="38.7" height="10.61" fill="#cf0000"/>
<rect x="1694.2" y="72.47" width="38.7" height="10.61" fill="#df0000"/>
<rect x="1694.2" y="81.88" width="38.7" height="10.61" fill="#ef0000"/>
<rect x="1694.2" y="91.29" width="38.7" height="10.61" fill="#ff0000"/>
<rect x="1694.2" y="100.7" width="38.7" height="10.61" fill="#ff1000"/>
<rect x="1694.2" y="110.11" width="38.7" height="10.61" fill="#ff2000"/>
<rect x="1694.2" y="119.52" width="38.7" height="10.61" fill="#ff3000"/>
<rect x="1694.2" y="128.93" width="38.7" height="10.61" fill="#ff4000"/>
<rect x="1694.2" y="138.34" width="38.7" height="10.61" fill="#ff5000"/>
<rect x="1694.2" y="147.75" width="38.7" height="10.61" fill="#ff6000"/>
<rect x="1694.2" y="157.16" width="38.7" height="10.61" fill="#ff7000"/>
<rect x="1694.2" y="166.57" width="38.7" height="10.61" fill="#ff8000"/>
<rect x="1694.2" y="175.99" width="38.7" height="10.61" fill="#ff8f00"/>
<rect x="1694.2" y="185.4" width="38.7" height="10.61" fill="#ff9f00"/>
<rect x="1694.2" y="194.81" width="38.7" height="10.61" fill="#ffaf00"/>
<rect x="1694.2" y="204.22" width="38.7" height="10.61" fill="#ffbf00"/>
<rect x="1694.2" y="213.63" width="38.7" height="10.61" fill="#ffcf00"/>
<rect x="1694.2" y="223.04" width="38.7" height="10.61" fill="#ffdf00"/>
<rect x="1694.2" y="232.45" width="38.7" height="10.61" fill="#ffef00"/>
<rect x="1694.2" y="241.86" width="38.7" height="10.61" fill="#ffff00"/>
<rect x="1694.2" y="251.27" width="38.7" height="10.61" fill="#efff10"/>
<rect x="1694.2" y="260.68" width="38.7" height="10.61" fill="#dfff20"/>
<rect x="1694.2" y="270.1" width="38.7" height="10.61" fill="#cfff30"/>
<rect x="1694.2" y="279.51" width="38.7" height="10.61" fill="#bfff40"/>
<rect x="1694.2" y="288.92" width="38.7" height="10.61" fill="#afff50"/>
<rect x="1694.2" y="298.33" width="38.7" height="10.61" fill="#9fff60"/>
<rect x="1694.2" y="307.74" width="38.7" height="10.61" fill="#8fff70"/>
<rect x="1694.2" y="317.15" width="38.7" height="10.61" fill="#80ff80"/>
<rect x="1694.2" y="326.56" width="38.7" height="10.61" fill="#70ff8f"/>
<rect x="1694.2" y="335.97" width="38.7" height="10.61" fill="#60ff9f"/>
<rect x="1694.2" y="345.38" width="38.7" height="10.61" fill="#50ffaf"/>
<rect x="1694.2" y="354.79" width="38.7" height="10.61" fill="#40ffbf"/>
<rect x="1694.2" y="364.2" width="38.7" height="10.61" fill="#30ffcf"/>
<rect x="1694.2" y="373.62" width="38.7" height="10.61" fill="#20ffdf"/>
<rect x="1694.2" y="383.03" width="38.7" height="10.61" fill="#10ffef"/>
<rect x="1694.2" y="392.44" width="38.7" height="10.61" fill="#00ffff"/>
<rect x="1694.2" y="401.85" width="38.7" height="10.61" fill="#00efff"/>
<rect x="1694.2" y="411.26" width="38.7" height="10.61" fill="#00dfff"/>
<rect x="1694.2" y="420.67" width="38.7" height="10.61" fill="#00cfff"/>
<rect x="1694.2" y="430.08" width="38.7" height="10.61" fill="#00bfff"/>
<rect x="1694.2" y="439.49" width="38.7" height="10.61" fill="#00afff"/>
<rect x="1694.2" y="448.9" width="38.7" height="10.61" fill="#009fff"/>
<rect x="1694.2" y="458.31" width="38.7" height="10.61" fill="#008fff"/>
<rect x="1694.2" y="467.72" width="38.7" height="10.61" fill="#0080ff"/>
<rect x="1694.2" y="477.14" width="38.7" height="10.61" fill="#0070ff"/>
<rect x="1694.2" y="486.55" width="38.7" height="10.61" fill="#0060ff"/>
<rect x="1694.2" y="495.96" width="38.7" height="10.61" fill="#0050ff"/>
<rect x="1694.2" y="505.37" width="38.7" height="10.61" fill="#0040ff"/>
<rect x="1694.2" y="514.78" width="38.7" height="10.61" fill="#0030ff"/>
<rect x="1694.2" y="524.19" width="38.7" height="10.61" fill="#0020ff"/>
<rect x="1694.2" y="533.6" width="38.7" height="10.61" fill="#0010ff"/>
<rect x="1694.2" y="543.01" width="38.7" height="10.61" fill="#0000ff"/>
<rect x="1694.2" y="552.42" width="38.7" height="10.61" fill="#0000ef"/>
<rect x="1694.2" y="561.83" width="38.7" height="10.61" fill="#0000df"/>
<rect x="1694.2" y="571.25" width="38.7" height="10.61" fill="#0000cf"/>
<rect x="1694.2" y="580.66" width="38.7" height="10.61" fill="#0000bf"/>
<rect x="1694.2" y="590.07" width="38.7" height="10.61" fill="#0000af"/>
<rect x="1694.2" y="599.48" width="38.7" height="10.61" fill="#00009f"/>
<rect x="1694.2" y="608.89" width="38.7" height="11.01" fill="#00008f"/>
<path d="M1732.9 77.83h-6.8M1732.9 138.06h-6.8M1732.9 198.29h-6.8M1732.9 258.52h-6.8M1732.9 318.75h-6.8M1732.9 378.98h-6.8M1732.9 439.21h-6.8M1732.9 499.44h-6.8M1732.9 559.67h-6.8" stroke="#000" stroke-width="1.85" fill="none"/>
<rect x="1694.2" y="17.85" width="38.7" height="602.05" fill="none" stroke="#000" stroke-width="1.9"/>
<g font-family="'Liberation Sans', Arial, Helvetica, sans-serif" font-size="20.5" fill="#000" stroke="#000" stroke-width="0.4">
<text transform="translate(1741.5 26.5) scale(1 1.07) rotate(0.03)">1</text>
<text transform="translate(1741.5 86.73) scale(1 1.07) rotate(0.03)">0.9</text>
<text transform="translate(1741.5 146.96) scale(1 1.07) rotate(0.03)">0.8</text>
<text transform="translate(1741.5 207.19) scale(1 1.07) rotate(0.03)">0.7</text>
<text transform="translate(1741.5 267.42) scale(1 1.07) rotate(0.03)">0.6</text>
<text transform="translate(1741.5 327.65) scale(1 1.07) rotate(0.03)">0.5</text>
<text transform="translate(1741.5 387.88) scale(1 1.07) rotate(0.03)">0.4</text>
<text transform="translate(1741.5 448.11) scale(1 1.07) rotate(0.03)">0.3</text>
<text transform="translate(1741.5 508.34) scale(1 1.07) rotate(0.03)">0.2</text>
<text transform="translate(1741.5 568.57) scale(1 1.07) rotate(0.03)">0.1</text>
<text transform="translate(1741.5 628.8) scale(1 1.07) rotate(0.03)">0</text>
</g>
<text transform="translate(1253.11 716.4) scale(0.995 1) rotate(0.03)" font-family="'Liberation Sans', Arial, Helvetica, sans-serif" font-weight="bold" font-size="38.2">(b)</text>
<text transform="translate(1311.65 716.15) scale(1.005 1) rotate(0.03)" font-family="'Liberation Serif', 'Times New Roman', Times, serif" font-size="36.35" font-style="italic" stroke="#000" stroke-width="0.7">R</text>
<text transform="translate(1333.72 702.52) scale(1.096 1) rotate(0.03)" font-family="'Liberation Serif', 'Times New Roman', Times, serif" font-size="28.3" stroke="#000" stroke-width="0.56">2</text>
<text transform="translate(1352.54 716.99) scale(0.851 1) rotate(0.03)" font-family="'Liberation Serif', 'Times New Roman', Times, serif" font-size="41.63">(</text>
<text transform="translate(1365.09 716.32) scale(1.024 1) rotate(0.03)" font-family="'Liberation Serif', 'Times New Roman', Times, serif" font-size="36.54" font-style="italic" stroke="#000" stroke-width="0.7">u</text>
<text transform="translate(1385.65 716.93) scale(0.748 1) rotate(0.03)" font-family="'Liberation Serif', 'Times New Roman', Times, serif" font-size="44" stroke="#000" stroke-width="0.2">,</text>
<text transform="translate(1399.19 716.39) scale(0.919 1) rotate(0.03)" font-family="'Liberation Serif', 'Times New Roman', Times, serif" font-size="36.69" font-style="italic" stroke="#000" stroke-width="0.7">v</text>
<text transform="translate(1415.66 716.99) scale(0.851 1) rotate(0.03)" font-family="'Liberation Serif', 'Times New Roman', Times, serif" font-size="41.63">)</text>
</svg>
</body>
</html>
